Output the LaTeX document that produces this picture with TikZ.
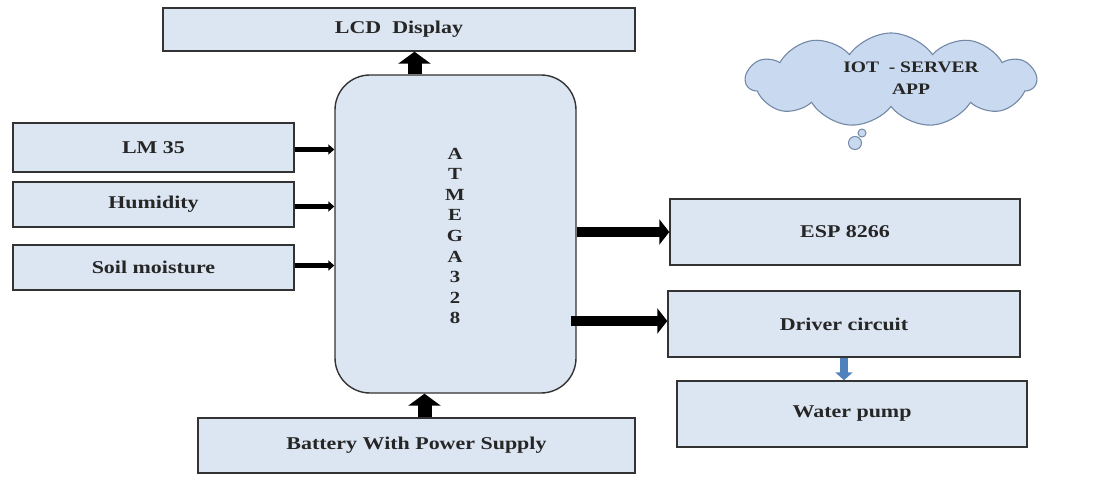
\documentclass[tikz,border=0pt]{standalone}
\usepackage{fontspec}
\setmainfont{Liberation Serif}[FakeStretch=1.22]
\usetikzlibrary{arrows.meta,shapes.symbols}
\definecolor{boxfill}{HTML}{DCE6F2}
\definecolor{cloudfill}{HTML}{C9DAF0}
\definecolor{cloudedge}{HTML}{7389A6}
\definecolor{edge}{HTML}{333333}
\definecolor{txt}{HTML}{262626}
\definecolor{pumparrow}{HTML}{4F81BD}
\tikzset{
  blk/.style={draw=edge, line width=1.4pt, fill=boxfill, inner sep=0pt,
    font=\fontsize{18}{20}\selectfont\bfseries, text=txt},
  thinarrow/.style={draw=black, line width=4.5pt, -{Triangle[length=6pt,width=10pt]}},
  fatarrow/.style={draw=black, line width=10pt, -{Triangle[length=10pt,width=25pt]}},
  uparrow/.style={draw=black, line width=14pt, -{Triangle[length=12pt,width=32pt]}},
  bluearrow/.style={draw=pumparrow, line width=8pt, -{Triangle[length=8pt,width=17pt]}},
  bubble/.style={circle, draw=cloudedge, line width=1pt, fill=cloudfill, inner sep=0pt}
}
\begin{document}
\begin{tikzpicture}[x=1pt,y=-1pt]
\useasboundingbox (0,0) rectangle (1104,481);
\fill[white] (0,0) rectangle (1104,481);

% cloud
\node[cloud, cloud puffs=11, cloud puff arc=110, aspect=3.1, draw=cloudedge, line width=1.1pt,
  fill=cloudfill, minimum width=290pt, minimum height=94pt] (cloud) at (891,80) {};
\node[font=\fontsize{16}{22}\selectfont\bfseries, text=txt, align=center] (cloudtxt) at (911,78) {IOT\ \ - SERVER\\APP};
\node[bubble, minimum size=8pt] (b2) at (862,133) {};
\node[bubble, minimum size=13pt] (b1) at (855,143) {};

% blocks
\node[blk, minimum width=472pt, minimum height=43pt] (lcd) at (399,29.5) {LCD\ \ Display};
\node[blk, rounded corners=35pt, minimum width=241pt, minimum height=318pt] (mcu) at (455.5,234) {};
\node[font=\fontsize{17}{20.6}\selectfont\bfseries, text=txt, align=center] (mcutxt) at (455,236)
  {A\\T\\M\\E\\G\\A\\3\\2\\8};
\node[blk, minimum width=281pt, minimum height=49pt] (lm35) at (153.5,147.5) {LM 35};
\node[blk, minimum width=281pt, minimum height=45pt] (hum) at (153.5,204.5) {Humidity};
\node[blk, minimum width=281pt, minimum height=45pt] (soil) at (153.5,267.5) {Soil moisture};
\node[blk, minimum width=350pt, minimum height=66pt] (esp) at (845,232) {ESP 8266};
\node[blk, minimum width=352pt, minimum height=66pt] (drv) at (844,324) {Driver circuit};
\node[blk, minimum width=350pt, minimum height=66pt] (pump) at (852,414) {Water pump};
\node[blk, minimum width=437pt, minimum height=55pt] (bat) at (416.5,445.5) {Battery With Power Supply};

% connectors
\draw[thinarrow] ([yshift=-2pt]lm35.east) -- ([yshift=-2pt]lm35.east -| mcu.west);
\draw[thinarrow] ([yshift=-2pt]hum.east) -- ([yshift=-2pt]hum.east -| mcu.west);
\draw[thinarrow] ([yshift=2pt]soil.east) -- ([yshift=2pt]soil.east -| mcu.west);
\draw[fatarrow] (mcu.east |- esp.west) -- (esp.west);
\draw[fatarrow] ([xshift=-6pt,yshift=3pt]mcu.east |- drv.west) -- ([yshift=3pt]drv.west);
\draw[uparrow] ([xshift=-41pt]mcu.north) -- ([xshift=-41pt]mcu.north |- lcd.south);
\draw[uparrow] ([xshift=-31pt]mcu.south |- bat.north) -- ([xshift=-31pt]mcu.south);
\draw[bluearrow] (drv.south) -- (drv.south |- pump.north);
\end{tikzpicture}
\end{document}
